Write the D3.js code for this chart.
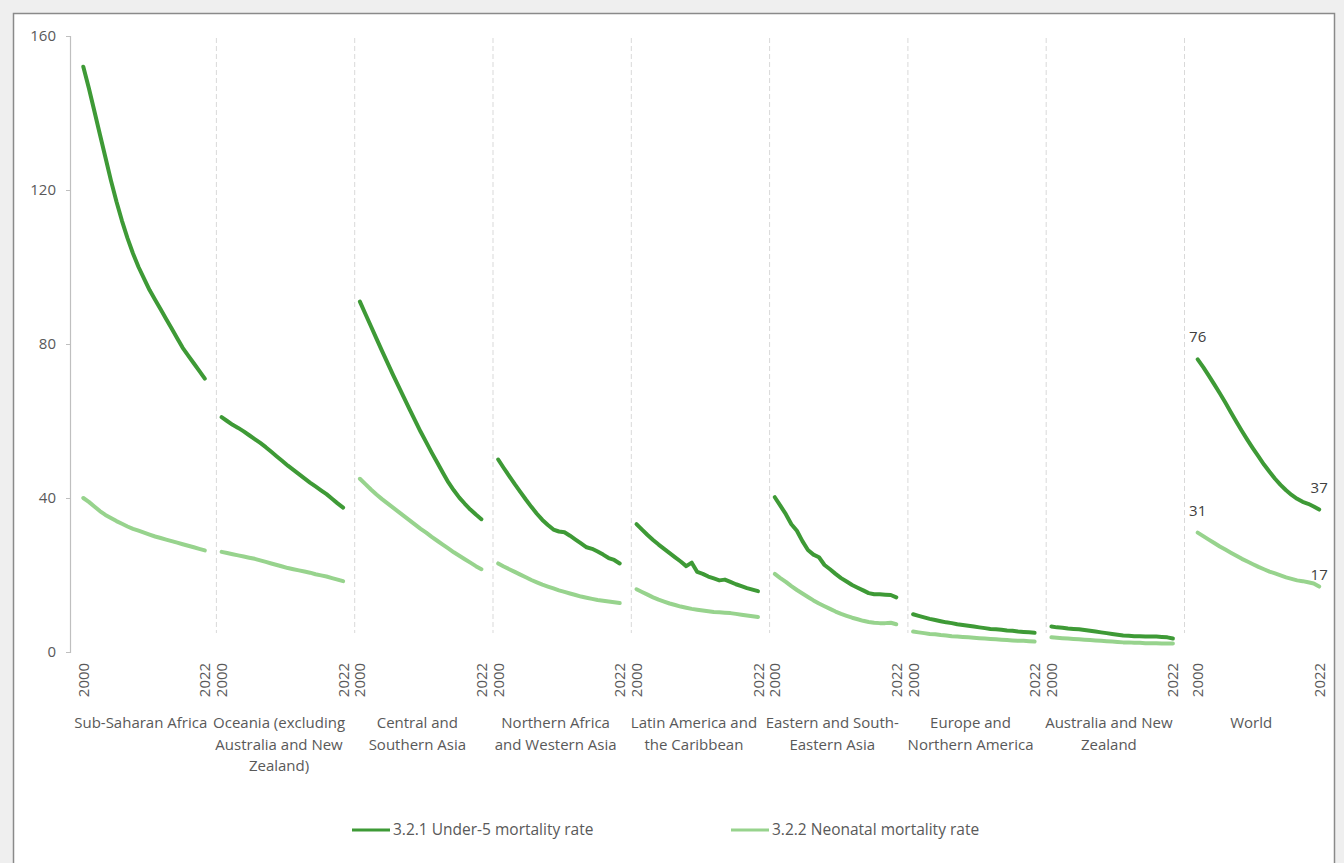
<!DOCTYPE html>
<html>
<head>
<meta charset="utf-8">
<script src="https://cdn.jsdelivr.net/npm/d3@7"></script>
<style>
  html, body { margin: 0; padding: 0; background: #efefef; }
  svg { display: block; }
</style>
</head>
<body>
<svg id="chart" width="1344" height="863"></svg>
<script>
// ---------- DATA ----------
const regions = [
  "Sub-Saharan Africa",
  "Oceania (excluding Australia and New Zealand)",
  "Central and Southern Asia",
  "Northern Africa and Western Asia",
  "Latin America and the Caribbean",
  "Eastern and South-Eastern Asia",
  "Europe and Northern America",
  "Australia and New Zealand",
  "World"
];
const regionLabelLines = [
  ["Sub-Saharan Africa"],
  ["Oceania (excluding", "Australia and New", "Zealand)"],
  ["Central and", "Southern Asia"],
  ["Northern Africa", "and Western Asia"],
  ["Latin America and", "the Caribbean"],
  ["Eastern and South-", "Eastern Asia"],
  ["Europe and", "Northern America"],
  ["Australia and New", "Zealand"],
  ["World"]
];
const years = [2000, 2001, 2002, 2003, 2004, 2005, 2006, 2007, 2008, 2009, 2010, 2011,
               2012, 2013, 2014, 2015, 2016, 2017, 2018, 2019, 2020, 2021, 2022];
const yearTicks = [2000, 2022];
const yTicks = [0, 40, 80, 120, 160];
const seriesNames = ["3.2.1 Under-5 mortality rate", "3.2.2 Neonatal mortality rate"];

// Under-5 mortality rate (per 1,000 live births)
const u5SSA   = [152, 146.5, 140.5, 134.5, 128.5, 122.5, 117, 112, 107.5, 103.5, 100, 97, 94, 91.5, 89, 86.5, 84, 81.5, 79, 77, 75, 73, 71];
const u5OCE   = [61, 60, 59, 58.2, 57.3, 56.3, 55.3, 54.3, 53.2, 52, 50.8, 49.6, 48.4, 47.3, 46.2, 45.1, 44, 43, 42, 41, 39.8, 38.6, 37.5];
const u5CSA   = [91, 87.8, 84.6, 81.4, 78.2, 75.1, 72, 69, 66, 63, 60.1, 57.2, 54.5, 51.8, 49.2, 46.6, 44.1, 42, 40.1, 38.5, 37, 35.7, 34.5];
const u5NAWA  = [50, 47.8, 45.7, 43.6, 41.6, 39.6, 37.7, 35.9, 34.3, 33, 31.8, 31.3, 31.1, 30.2, 29.2, 28.2, 27.2, 26.8, 26.1, 25.3, 24.4, 23.9, 23];
const u5LAC   = [33.2, 31.8, 30.4, 29.1, 27.9, 26.8, 25.7, 24.6, 23.5, 22.3, 23.2, 20.8, 20.3, 19.6, 19.1, 18.6, 18.8, 18.2, 17.6, 17.1, 16.6, 16.2, 15.8];
const u5ESEA  = [40.2, 38, 35.8, 33.2, 31.5, 28.8, 26.5, 25.3, 24.6, 22.6, 21.5, 20.3, 19.2, 18.3, 17.4, 16.7, 16, 15.3, 15, 15, 14.9, 14.8, 14.2];
const u5ENA   = [9.8, 9.4, 9, 8.6, 8.3, 8, 7.7, 7.5, 7.2, 7, 6.8, 6.6, 6.4, 6.2, 6.0, 5.9, 5.8, 5.6, 5.5, 5.3, 5.2, 5.1, 5.0];
const u5ANZ   = [6.6, 6.4, 6.3, 6.1, 6.0, 5.9, 5.7, 5.5, 5.3, 5.1, 4.9, 4.7, 4.5, 4.3, 4.2, 4.1, 4.1, 4.0, 4.0, 4.0, 3.9, 3.8, 3.5];
const u5WLD   = [76, 74, 71.8, 69.5, 67.2, 64.8, 62.3, 59.8, 57.4, 55.1, 52.9, 50.8, 48.7, 46.8, 45, 43.4, 42, 40.8, 39.8, 39, 38.5, 37.8, 37];

// Neonatal mortality rate (per 1,000 live births)
const nnSSA   = [40, 39, 37.8, 36.6, 35.6, 34.8, 34, 33.3, 32.6, 32, 31.5, 31, 30.5, 30, 29.6, 29.2, 28.8, 28.4, 28, 27.6, 27.2, 26.8, 26.4];
const nnOCE   = [26, 25.7, 25.4, 25.1, 24.8, 24.5, 24.2, 23.8, 23.4, 23, 22.6, 22.2, 21.8, 21.5, 21.2, 20.9, 20.6, 20.2, 19.9, 19.6, 19.2, 18.8, 18.4];
const nnCSA   = [45, 43.6, 42.2, 40.9, 39.7, 38.6, 37.5, 36.4, 35.3, 34.2, 33.1, 32, 31, 29.9, 28.9, 27.9, 26.9, 25.9, 25, 24.1, 23.2, 22.3, 21.5];
const nnNAWA  = [23, 22.2, 21.5, 20.8, 20.1, 19.4, 18.7, 18.1, 17.5, 17, 16.5, 16, 15.6, 15.2, 14.8, 14.4, 14.1, 13.8, 13.5, 13.3, 13.1, 12.9, 12.7];
const nnLAC   = [16.3, 15.6, 14.9, 14.2, 13.6, 13.1, 12.6, 12.2, 11.8, 11.5, 11.2, 11, 10.8, 10.6, 10.4, 10.3, 10.2, 10.1, 9.9, 9.7, 9.5, 9.3, 9.1];
const nnESEA  = [20.3, 19.2, 18.2, 17.1, 16.1, 15.2, 14.3, 13.4, 12.6, 11.9, 11.2, 10.5, 9.9, 9.4, 8.9, 8.5, 8.1, 7.8, 7.6, 7.5, 7.5, 7.6, 7.2];
const nnENA   = [5.3, 5.1, 4.9, 4.7, 4.6, 4.4, 4.3, 4.1, 4.0, 3.9, 3.8, 3.7, 3.6, 3.5, 3.4, 3.3, 3.2, 3.1, 3.0, 2.9, 2.9, 2.8, 2.7];
const nnANZ   = [3.8, 3.7, 3.6, 3.5, 3.4, 3.3, 3.2, 3.1, 3.0, 2.9, 2.8, 2.7, 2.6, 2.5, 2.5, 2.4, 2.4, 2.3, 2.3, 2.3, 2.2, 2.2, 2.2];
const nnWLD   = [31, 30.1, 29.2, 28.3, 27.4, 26.6, 25.8, 25, 24.2, 23.5, 22.8, 22.1, 21.5, 20.9, 20.4, 19.9, 19.4, 19, 18.6, 18.4, 18.1, 17.8, 17];

const under5   = [u5SSA, u5OCE, u5CSA, u5NAWA, u5LAC, u5ESEA, u5ENA, u5ANZ, u5WLD];
const neonatal = [nnSSA, nnOCE, nnCSA, nnNAWA, nnLAC, nnESEA, nnENA, nnANZ, nnWLD];
const labelledRegion = "World";

// ---------- STYLE / LAYOUT ----------
const darkGreen = "#3e9a36";
const lightGreen = "#97d38d";
const textColor = "#595959";
const labelColor = "#404040";
const fontFamily = "'Open Sans', 'DejaVu Sans', sans-serif";

const svg = d3.select("#chart");

// panel
svg.append("rect")
  .attr("x", 13.5).attr("y", 13.5)
  .attr("width", 1321).attr("height", 880)
  .attr("fill", "#ffffff")
  .attr("stroke", "#8a8a8a").attr("stroke-width", 1.5);

const plotLeft = 70, plotTop = 36, plotBottom = 652;

const y = d3.scaleLinear().domain([0, 160]).range([plotBottom, plotTop]);
const xGroup = d3.scaleBand().domain(regions).range([75.6, 75.6 + 9 * 138.3]).paddingInner(0).paddingOuter(0);
const xYear = d3.scaleLinear().domain([2000, 2022]).range([7.7, 129.2]);
const groupShift = r => (r === "World" ? 8 : 0);
const xPos = (r, yr) => xGroup(r) + groupShift(r) + xYear(yr);

// y axis
const yAxis = d3.axisLeft(y).tickValues(yTicks).tickSize(4).tickPadding(10);
const gy = svg.append("g").attr("transform", `translate(${plotLeft},0)`).call(yAxis);
gy.select(".domain").attr("stroke", "#bfbfbf").attr("stroke-width", 1.2);
gy.selectAll(".tick line").attr("stroke", "#bfbfbf");
gy.selectAll(".tick text").attr("fill", textColor)
  .style("font-family", fontFamily).style("font-size", "15px");

// separators
svg.append("g").selectAll("line")
  .data(regions.slice(1))
  .join("line")
  .attr("x1", d => xGroup(d) + 2.5).attr("x2", d => xGroup(d) + 2.5)
  .attr("y1", 38).attr("y2", 633)
  .attr("stroke", "#d9d9d9").attr("stroke-width", 1)
  .attr("stroke-dasharray", "5,3");

// year tick labels (rotated)
const yearLabelData = [];
regions.forEach(r => yearTicks.forEach(yr => yearLabelData.push({ r, yr })));
svg.append("g").selectAll("text")
  .data(yearLabelData)
  .join("text")
  .attr("transform", d => `translate(${xPos(d.r, d.yr) + 5.5},${680}) rotate(-90)`)
  .attr("text-anchor", "middle")
  .attr("fill", textColor)
  .style("font-family", fontFamily).style("font-size", "15px")
  .text(d => d.yr);

// region labels
const rl = svg.append("g");
regions.forEach((r, i) => {
  const cx = xGroup(r) + xGroup.bandwidth() / 2 - 4 + groupShift(r) / 2;
  const t = rl.append("text")
    .attr("text-anchor", "middle")
    .attr("fill", textColor)
    .style("font-family", fontFamily).style("font-size", "15px");
  regionLabelLines[i].forEach((ln, j) => {
    t.append("tspan").attr("x", cx).attr("y", 728 + j * 21.5).text(ln);
  });
});

// lines
const line = d3.line()
  .x(d => xPos(d.r, d.yr))
  .y(d => y(d.v))
  .curve(d3.curveLinear);

const toPts = (r, arr) => arr.map((v, i) => ({ r, yr: years[i], v }));

const gl = svg.append("g").attr("fill", "none")
  .attr("stroke-linejoin", "round").attr("stroke-linecap", "round");

regions.forEach((r, i) => {
  gl.append("path").datum(toPts(r, neonatal[i]))
    .attr("d", line).attr("stroke", lightGreen).attr("stroke-width", 4);
  gl.append("path").datum(toPts(r, under5[i]))
    .attr("d", line).attr("stroke", darkGreen).attr("stroke-width", 4);
});

// data labels for World
const wi = regions.indexOf(labelledRegion);
const lblData = [];
[under5[wi], neonatal[wi]].forEach((arr, k) => {
  lblData.push({ yr: years[0], v: arr[0], k });
  lblData.push({ yr: years[years.length - 1], v: arr[arr.length - 1], k });
});
svg.append("g").selectAll("text")
  .data(lblData)
  .join("text")
  .attr("x", d => xPos(labelledRegion, d.yr))
  .attr("y", d => y(d.v) - (d.k === 1 && d.yr === 2022 ? 7 : 17))
  .attr("text-anchor", "middle")
  .attr("fill", labelColor)
  .style("font-family", fontFamily).style("font-size", "15px")
  .text(d => Math.round(d.v));

// legend
const legendItems = [
  { name: seriesNames[0], color: darkGreen, x: 352 },
  { name: seriesNames[1], color: lightGreen, x: 731 }
];
const lg = svg.append("g");
legendItems.forEach(it => {
  lg.append("line").attr("x1", it.x).attr("x2", it.x + 38)
    .attr("y1", 830).attr("y2", 830)
    .attr("stroke", it.color).attr("stroke-width", 3);
  lg.append("text").attr("x", it.x + 41).attr("y", 835)
    .attr("fill", textColor)
    .style("font-family", fontFamily).style("font-size", "15.5px")
    .text(it.name);
});
</script>
</body>
</html>
